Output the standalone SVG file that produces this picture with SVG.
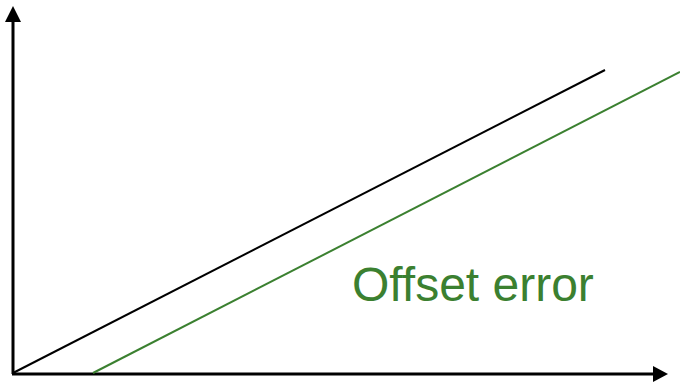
<svg xmlns="http://www.w3.org/2000/svg" width="680" height="383" viewBox="0 0 680 383">
<style>
.axis{stroke:#000;stroke-width:3;fill:none}
.head{fill:#000}
.ideal{stroke:#000;stroke-width:2;fill:none}
.offset{stroke:#3b8030;stroke-width:2;fill:none}
.lbl{font-family:"Liberation Sans",Arial,sans-serif;font-size:48px;fill:#3b8030}
</style>
<g id="axes">
<line class="axis" x1="13" y1="374" x2="13" y2="20"/>
<polygon class="head" points="13,6 5,22 21,22"/>
<line class="axis" x1="12" y1="374" x2="655" y2="374"/>
<polygon class="head" points="668,374 653,366 653,382"/>
</g>
<g id="connectors">
<line class="ideal" x1="13" y1="373" x2="605" y2="70"/>
<line class="offset" x1="93" y1="373" x2="680" y2="72"/>
</g>
<g id="label">
<text class="lbl" x="352" y="301">Offset error</text>
</g>
</svg>
